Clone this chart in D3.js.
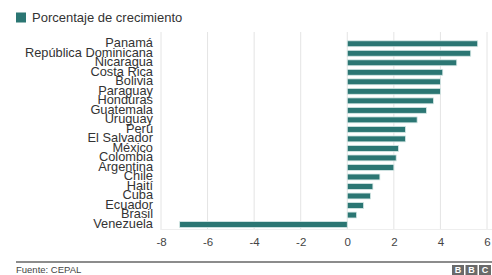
<!DOCTYPE html>
<html>
<head>
<meta charset="utf-8">
<script src="https://cdn.jsdelivr.net/npm/d3@7"></script>
<style>
  body { margin: 0; background: #fff; }
  svg { display: block; font-family: "Liberation Sans", Arial, Helvetica, sans-serif; }
</style>
</head>
<body>
<div id="chart"></div>
<script>
const countries = ['Panamá', 'República Dominicana', 'Nicaragua', 'Costa Rica', 'Bolivia',
  'Paraguay', 'Honduras', 'Guatemala', 'Uruguay', 'Perú', 'El Salvador', 'México',
  'Colombia', 'Argentina', 'Chile', 'Haití', 'Cuba', 'Ecuador', 'Brasil', 'Venezuela'];
const growth = [5.6, 5.3, 4.7, 4.1, 4.0, 4.0, 3.7, 3.4, 3.0, 2.5, 2.5, 2.2,
  2.1, 2.0, 1.4, 1.1, 1.0, 0.7, 0.4, -7.2];
const xTicks = [-8, -6, -4, -2, 0, 2, 4, 6];

const width = 492, height = 275;
const teal = '#2b7673';

const svg = d3.select('#chart').append('svg')
  .attr('width', width)
  .attr('height', height);

// legend
svg.append('rect')
  .attr('x', 16).attr('y', 12.5)
  .attr('width', 10).attr('height', 10)
  .attr('fill', teal);
svg.append('text')
  .attr('x', 32).attr('y', 22)
  .style('font-size', '13px')
  .attr('fill', '#333')
  .text('Porcentaje de crecimiento');

const x = d3.scaleLinear().domain([-8, 6]).range([161, 487]);
const y = d3.scaleBand().domain(countries).range([39, 229.3]).paddingInner(0.38).paddingOuter(0.19);

// grid
svg.append('g')
  .selectAll('line')
  .data(xTicks)
  .enter()
  .append('line')
  .attr('x1', d => x(d)).attr('x2', d => x(d))
  .attr('y1', 32).attr('y2', 230)
  .attr('stroke', '#e4e4e4')
  .attr('stroke-width', 1);
svg.append('line')
  .attr('x1', 161).attr('x2', 492)
  .attr('y1', 229.5).attr('y2', 229.5)
  .attr('stroke', '#eeeeee');

// bars
svg.append('g')
  .selectAll('rect')
  .data(growth)
  .enter()
  .append('rect')
  .attr('x', d => x(Math.min(0, d)))
  .attr('y', (d, i) => y(countries[i]))
  .attr('width', d => Math.abs(x(d) - x(0)))
  .attr('height', y.bandwidth())
  .attr('fill', teal)
  .attr('stroke', '#d6e8e6')
  .attr('stroke-width', 0.8);

// country labels (they overlap in the original too)
svg.append('g')
  .selectAll('text')
  .data(countries)
  .enter()
  .append('text')
  .attr('x', 153)
  .attr('y', d => y(d) + y.bandwidth() / 2 + 3.4)
  .attr('text-anchor', 'end')
  .style('font-size', '12.8px')
  .attr('fill', '#333')
  .text(d => d);

// x axis labels
const xAxis = d3.axisBottom(x).tickValues(xTicks).tickSize(0).tickPadding(0)
  .tickFormat(d => d < 0 ? '-' + Math.abs(d) : d);
const gx = svg.append('g')
  .attr('transform', 'translate(0,238)')
  .call(xAxis);
gx.select('.domain').remove();
gx.selectAll('text')
  .attr('dy', '0.71em')
  .attr('fill', '#444')
  .style('font-size', '11.5px')
  .style('font-family', '"Liberation Sans", Arial, sans-serif');

// footer
svg.append('line')
  .attr('x1', 16).attr('x2', 492)
  .attr('y1', 262).attr('y2', 262)
  .attr('stroke', '#666')
  .attr('stroke-width', 1.5);
svg.append('text')
  .attr('x', 16).attr('y', 273)
  .style('font-size', '9.5px')
  .attr('fill', '#444')
  .text('Fuente: CEPAL');

const logo = svg.append('g').attr('transform', 'translate(452,265)');
['B', 'B', 'C'].forEach((c, i) => {
  logo.append('rect')
    .attr('x', i * 13.5).attr('y', 0)
    .attr('width', 12).attr('height', 10)
    .attr('fill', '#6a6a6a');
  logo.append('text')
    .attr('x', i * 13.5 + 6).attr('y', 8.3)
    .attr('text-anchor', 'middle')
    .style('font-size', '9px')
    .style('font-weight', 'bold')
    .attr('fill', '#fff')
    .text(c);
});
</script>
</body>
</html>
